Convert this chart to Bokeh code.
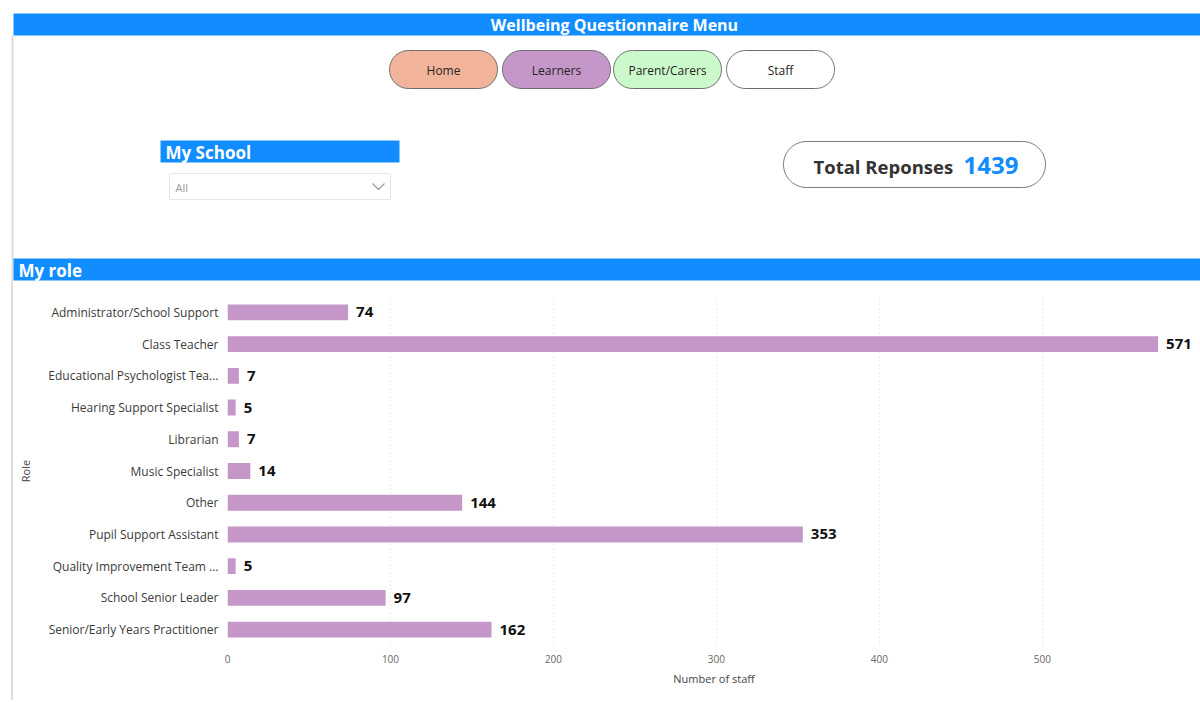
import numpy as np
from bokeh.plotting import figure
from bokeh.layouts import column, row
from bokeh.models import Range1d, FactorRange, ColumnDataSource, FixedTicker, Spacer
from bokeh.core.properties import value
from bokeh.embed import file_html
from bokeh.resources import INLINE

# ---------------- data ----------------
roles = [
    "Administrator/School Support",
    "Class Teacher",
    "Educational Psychologist Tea...",
    "Hearing Support Specialist",
    "Librarian",
    "Music Specialist",
    "Other",
    "Pupil Support Assistant",
    "Quality Improvement Team ...",
    "School Senior Leader",
    "Senior/Early Years Practitioner",
]
staff_counts = [74, 571, 7, 5, 7, 14, 144, 353, 5, 97, 162]
x_ticks = [0, 100, 200, 300, 400, 500]
menu_buttons = ["Home", "Learners", "Parent/Carers", "Staff"]
total_responses = 1439
school_selection = "All"

# ---------------- style ----------------
FONT = "Open Sans"
BLUE = "#118DFF"
BUTTON_FILLS = ["#F2B39B", "#C597C9", "#CCF9CC", "#FFFFFF"]
BAR_COLOR = "#C597C9"
EDGE = "#DDDDDD"

W = 1200
TOP_H = 281
BOT_H = 421
CHART_X0 = 13


def pill(x0, x1, y0, y1, n=30):
    r = (y1 - y0) / 2.0
    cy = (y0 + y1) / 2.0
    a = np.linspace(-np.pi / 2, np.pi / 2, n)
    xr = x1 - r + r * np.cos(a)
    yr = cy + r * np.sin(a)
    a2 = np.linspace(np.pi / 2, 3 * np.pi / 2, n)
    xl = x0 + r + r * np.cos(a2)
    yl = cy + r * np.sin(a2)
    return list(np.concatenate([xr, xl])), list(np.concatenate([yr, yl]))


def blank(width, height, xr, yr):
    f = figure(width=width, height=height, x_range=xr, y_range=yr,
               output_backend="svg", toolbar_location=None,
               x_axis_location=None, y_axis_location=None, min_border=0)
    f.grid.visible = False
    f.outline_line_color = None
    f.background_fill_color = "white"
    f.border_fill_color = "white"
    return f


def txt(f, x, y, s, size, color, bold=False, align="left"):
    f.text(x=[x], y=[y], text=[s], text_align=align, text_baseline="middle",
           text_color=color, text_font=value(FONT),
           text_font_style="bold" if bold else "normal",
           text_font_size=size)


# ---------------- top section (page pixel coordinates) ----------------
top = blank(W, TOP_H, Range1d(0, W), Range1d(TOP_H, 0))

top.segment(x0=[12], y0=[35], x1=[12], y1=[TOP_H], line_color=EDGE, line_width=2)

top.quad(left=[13], right=[W], top=[13], bottom=[35], fill_color=BLUE, line_color=None)
txt(top, 614, 24.5, "Wellbeing Questionnaire Menu", "16px", "white", bold=True, align="center")

btn_x = [(389, 497), (502, 610), (613, 721), (726, 834)]
for (bx0, bx1), label, fill in zip(btn_x, menu_buttons, BUTTON_FILLS):
    xs, ys = pill(bx0, bx1, 50, 88)
    top.patch(xs, ys, fill_color=fill, line_color="#6E6E6E", line_width=1)
    txt(top, (bx0 + bx1) / 2, 70, label, "12px", "#252423", align="center")

# My School slicer
top.quad(left=[160], right=[399], top=[140], bottom=[162], fill_color=BLUE, line_color=None)
txt(top, 165, 152, "My School", "17px", "white", bold=True)
top.quad(left=[169], right=[390], top=[173], bottom=[199], fill_color="white",
         line_color="#E6E6E6", line_width=1)
txt(top, 175, 187, school_selection, "11px", "#9A9A9A")
top.line(x=[372, 378, 384], y=[183, 189, 183], line_color="#9A9A9A", line_width=1.2)

# Total responses card
xs, ys = pill(783, 1045, 141, 187)
top.patch(xs, ys, fill_color="white", line_color="#7A7A7A", line_width=1)
txt(top, 813, 166, "Total Reponses", "18.5px", "#333333", bold=True)
txt(top, 963, 165, str(total_responses), "24px", BLUE, bold=True)

# My role band
top.quad(left=[13], right=[W], top=[258], bottom=[280], fill_color=BLUE, line_color=None)
txt(top, 18, 269.5, "My role", "17px", "white", bold=True)

# ---------------- bottom section ----------------
gap = Spacer(width=11, height=BOT_H - 2)
edge = Spacer(width=2, height=BOT_H - 2, styles={"background-color": EDGE})

src = ColumnDataSource(dict(role=roles, count=staff_counts,
                            label=[str(v) for v in staff_counts]))

chart = figure(width=W - CHART_X0, height=BOT_H,
               y_range=FactorRange(factors=list(reversed(roles))),
               x_range=Range1d(0, 597),
               output_backend="svg", toolbar_location=None,
               min_border_left=227 - CHART_X0, min_border_right=0,
               min_border_top=15, min_border_bottom=57)
chart.outline_line_color = None
chart.background_fill_color = "white"
chart.border_fill_color = "white"

chart.hbar(y="role", right="count", height=0.5, source=src,
           fill_color=BAR_COLOR, line_color=None)
chart.text(x="count", y="role", text="label", source=src, x_offset=8,
           text_baseline="middle", text_align="left", text_color="#111111",
           text_font=value(FONT), text_font_style="bold", text_font_size="15px")

chart.ygrid.visible = False
chart.xgrid.grid_line_color = "#D6D6D6"
chart.xgrid.grid_line_dash = "1 3"
chart.xgrid.grid_line_width = 1

xa = chart.xaxis[0]
xa.ticker = FixedTicker(ticks=x_ticks)
xa.axis_label = "Number of staff"
xa.axis_line_color = None
xa.major_tick_line_color = None
xa.minor_tick_line_color = None
xa.major_tick_out = 0
xa.major_tick_in = 0
xa.minor_tick_out = 0
xa.major_label_text_font = FONT
xa.major_label_text_font_size = "10px"
xa.major_label_text_color = "#666666"
xa.major_label_standoff = 9
xa.axis_label_text_font = FONT
xa.axis_label_text_font_size = "11px"
xa.axis_label_text_font_style = "normal"
xa.axis_label_text_color = "#444444"
xa.axis_label_standoff = 5

ya = chart.yaxis[0]
ya.axis_label = "Role"
ya.axis_line_color = None
ya.major_tick_line_color = None
ya.minor_tick_line_color = None
ya.major_tick_out = 0
ya.major_tick_in = 0
ya.minor_tick_out = 0
ya.major_label_text_font = FONT
ya.major_label_text_font_size = "12px"
ya.major_label_text_color = "#3A3A3A"
ya.major_label_standoff = 9
ya.axis_label_text_font = FONT
ya.axis_label_text_font_size = "11px"
ya.axis_label_text_font_style = "normal"
ya.axis_label_text_color = "#444444"
ya.axis_label_standoff = 12

layout = column(top, row(gap, edge, chart))

open("out.html", "w").write(file_html(layout, INLINE))
